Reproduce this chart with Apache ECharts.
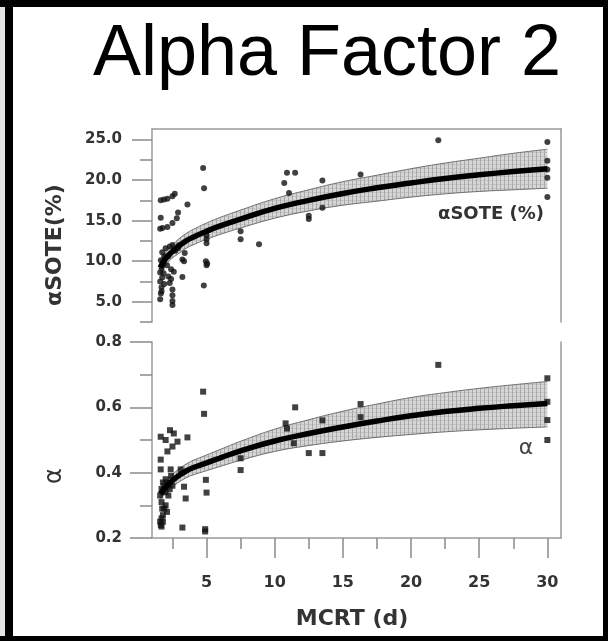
<!DOCTYPE html>
<html><head><meta charset="utf-8">
<script src="https://cdn.jsdelivr.net/npm/echarts@6/dist/echarts.min.js"></script>
<style>html,body{margin:0;padding:0;background:#fff}#c{width:608px;height:641px}</style>
</head><body><div id="c"></div>
<script>
// ---- data ----
const curveX = [1.6,1.8,2,2.25,2.5,3,3.5,4,5,6,7.5,10,12.5,15,17.5,20,22.5,25,27.5,30];
const soteFit   = [9.2,9.8,10.3,10.8,11.2,11.9,12.5,12.95,13.7,14.35,15.2,16.5,17.5,18.35,19.05,19.65,20.2,20.65,21.05,21.4];
const soteUpper = [10.0,10.6,11.1,11.6,12.0,12.8,13.4,13.9,14.7,15.4,16.3,17.7,18.8,19.8,20.6,21.4,22.1,22.7,23.3,23.8];
const soteLower = [8.4,9.0,9.5,10.0,10.4,11.0,11.6,12.0,12.7,13.3,14.1,15.3,16.2,16.9,17.4,17.9,18.3,18.6,18.8,19.0];
const alphaFit   = [0.335,0.345,0.355,0.366,0.376,0.392,0.405,0.415,0.43,0.445,0.467,0.497,0.52,0.54,0.558,0.574,0.587,0.597,0.605,0.612];
const alphaUpper = [0.35,0.361,0.372,0.384,0.395,0.412,0.426,0.437,0.454,0.471,0.496,0.533,0.562,0.588,0.61,0.63,0.645,0.658,0.669,0.679];
const alphaLower = [0.32,0.329,0.338,0.348,0.357,0.372,0.384,0.393,0.406,0.419,0.438,0.465,0.483,0.497,0.508,0.517,0.525,0.531,0.536,0.54];

const soteObs = [
[1.6,5.3],[1.65,6.0],[1.7,6.8],[1.6,7.5],[1.75,8.0],[1.6,8.6],[1.7,9.1],[1.8,9.6],[1.65,10.1],[1.9,10.6],[1.75,11.1],[2.0,11.6],[1.85,8.5],[1.9,7.2],[1.7,6.3],
[2.1,9.5],[2.2,10.6],[2.3,11.8],[2.5,12.0],[2.4,9.0],[2.2,8.1],[2.3,7.3],[2.5,6.5],[2.5,5.8],[2.5,5.1],[2.5,4.6],[2.4,7.8],[2.6,8.7],[2.7,11.3],[2.9,11.6],
[1.64,17.5],[1.88,17.6],[2.13,17.7],[2.5,18.0],[2.67,18.3],[3.6,17.0],[1.64,15.35],[1.77,14.1],[2.13,14.2],[2.5,14.7],[2.82,15.3],[2.91,16.0],[1.6,14.0],
[3.23,10.2],[3.35,10.0],[3.23,8.05],[3.0,12.0],[3.4,11.0],
[4.75,21.5],[4.82,19.0],[5.0,13.2],[5.0,12.7],[5.0,12.2],[4.95,10.0],[5.05,9.7],[5.0,9.5],[4.8,7.0],
[7.5,13.7],[7.5,12.7],[8.85,12.1],
[10.9,20.9],[11.5,20.9],[10.7,19.65],[11.05,18.4],
[12.5,15.2],[12.5,15.6],[13.5,19.95],[13.5,16.6],[16.3,20.7],[22.0,24.9],
[30,24.7],[30,22.4],[30,21.3],[30,20.3],[30,17.9]
];
const alphaObs = [
[1.64,0.51],[2.0,0.50],[2.32,0.53],[2.6,0.52],[2.87,0.495],[3.6,0.508],[2.5,0.48],[2.13,0.465],[1.64,0.44],[1.64,0.41],[2.37,0.41],[3.1,0.41],
[1.6,0.33],[1.7,0.35],[1.8,0.37],[1.9,0.36],[2.0,0.34],[2.1,0.37],[1.7,0.31],[1.75,0.29],[1.8,0.27],[1.6,0.25],[1.65,0.24],[1.7,0.235],[1.8,0.25],[2.0,0.30],[2.1,0.28],[2.2,0.33],[2.0,0.38],[2.3,0.35],[2.5,0.36],[2.4,0.39],[1.9,0.29],[1.7,0.26],
[3.35,0.357],[3.47,0.321],[3.23,0.232],
[4.75,0.648],[4.82,0.58],[4.95,0.378],[5.0,0.339],[4.9,0.227],[4.9,0.22],
[7.5,0.444],[7.5,0.408],
[11.5,0.60],[10.8,0.551],[10.9,0.535],[11.4,0.49],
[12.5,0.46],[13.5,0.46],[13.5,0.56],[16.3,0.61],[16.3,0.57],[22,0.73],
[30,0.689],[30,0.617],[30,0.561],[30,0.50]
];

const xMajorTicks = [5,10,15,20,25,30];
const xMinorTicks = [2.5,7.5,12.5,17.5,22.5,27.5];
const soteMajorTicks = [5,10,15,20,25];
const soteMinorTicks = [2.5,7.5,12.5,17.5,22.5];
const alphaMajorTicks = [0.2,0.4,0.6,0.8];
const alphaMinorTicks = [0.3,0.5,0.7];

// ---- styling ----
const pc = document.createElement('canvas'); pc.width = 4; pc.height = 4;
const g = pc.getContext('2d');
g.fillStyle = '#d6d6d6'; g.fillRect(0,0,4,4);
g.fillStyle = '#a9a9a9'; g.fillRect(0,0,1,4);
g.fillStyle = '#c2c2c2'; g.fillRect(1,0,3,1);
const bandFill = {image: pc, repeat: 'repeat'};

const AX = '#9a9a9a', TK = '#8a8a8a';
const labelFont = {fontFamily:'DejaVu Sans', fontWeight:'bold', color:'#333'};

function lineOnly(o){ return Object.assign({type:'value', axisTick:{show:false}, axisLabel:{show:false}, splitLine:{show:false},
  axisLine:{show:true, onZero:false, lineStyle:{color:AX, width:1.5}}}, o); }
function tickAxis(o, ticks, len, labels, fmt, margin, fs){
  return Object.assign({type:'value', splitLine:{show:false},
    axisLine:{show: !!labels, onZero:false, lineStyle:{color:AX, width:1.5}},
    axisTick:{show:true, length:len, customValues:ticks, lineStyle:{color:TK, width:1.5}},
    axisLabel: labels ? Object.assign({show:true, customValues:ticks, margin:margin, fontSize:fs, formatter:fmt}, labelFont) : {show:false}
  }, o);
}

function band(xi, yi, up, lo){
  return {type:'custom', xAxisIndex:xi, yAxisIndex:yi, data:[[15, lo[0]]], silent:true, z:1,
    renderItem:function(params, api){
      const pts = [];
      for (let i=0;i<curveX.length;i++) pts.push(api.coord([curveX[i], up[i]]));
      for (let i=curveX.length-1;i>=0;i--) pts.push(api.coord([curveX[i], lo[i]]));
      return {type:'polygon', shape:{points:pts}, style:{fill:bandFill, stroke:null}};
    }};
}
function edge(xi, yi, arr){
  return {type:'line', xAxisIndex:xi, yAxisIndex:yi, data:curveX.map((x,i)=>[x,arr[i]]), smooth:true, symbol:'none',
    silent:true, z:2, lineStyle:{color:'#6e6e6e', width:1}};
}
function fit(xi, yi, arr){
  return {type:'line', xAxisIndex:xi, yAxisIndex:yi, data:curveX.map((x,i)=>[x,arr[i]]), smooth:true, symbol:'none',
    silent:true, z:4, lineStyle:{color:'#000', width:5.5}};
}

const chart = echarts.init(document.getElementById('c'), null, {renderer:'canvas'});
chart.setOption({
  animation:false,
  backgroundColor:'#fff',
  grid:[
    {left:152, top:129, width:409, height:193},
    {left:152, top:342, width:409, height:196}
  ],
  xAxis:[
    lineOnly({gridIndex:0, min:1, max:31, position:'top'}),
    tickAxis({gridIndex:1, min:1, max:31, position:'bottom'}, xMajorTicks, 20, true, v=>String(v), 37, 16),
    tickAxis({gridIndex:1, min:1, max:31, position:'bottom'}, xMinorTicks, 11, false)
  ],
  yAxis:[
    tickAxis({gridIndex:0, min:2.5, max:26.3, position:'left'}, soteMajorTicks, 20, true, v=>v.toFixed(1), 30, 15),
    tickAxis({gridIndex:0, min:2.5, max:26.3, position:'left'}, soteMinorTicks, 12, false),
    lineOnly({gridIndex:0, min:2.5, max:26.3, position:'right'}),
    tickAxis({gridIndex:1, min:0.2, max:0.8, position:'left'}, alphaMajorTicks, 22, true, v=>v.toFixed(1), 30, 15),
    tickAxis({gridIndex:1, min:0.2, max:0.8, position:'left'}, alphaMinorTicks, 12, false),
    lineOnly({gridIndex:1, min:0.2, max:0.8, position:'right'})
  ],
  series:[
    band(0, 0, soteUpper, soteLower),
    edge(0, 0, soteUpper), edge(0, 0, soteLower),
    {type:'scatter', xAxisIndex:0, yAxisIndex:0, data:soteObs, symbol:'circle', symbolSize:6, z:3,
      itemStyle:{color:'#111'}},
    fit(0, 0, soteFit),
    band(1, 3, alphaUpper, alphaLower),
    edge(1, 3, alphaUpper), edge(1, 3, alphaLower),
    {type:'scatter', xAxisIndex:1, yAxisIndex:3, data:alphaObs, symbol:'rect', symbolSize:6, z:3,
      itemStyle:{color:'#111'}},
    fit(1, 3, alphaFit)
  ],
  graphic:[
    {type:'rect', shape:{x:0,y:0,width:5,height:641}, style:{fill:'#e4e4e4'}, z:100},
    {type:'rect', shape:{x:5,y:0,width:8,height:641}, style:{fill:'#000'}, z:100},
    {type:'rect', shape:{x:0,y:0,width:608,height:7}, style:{fill:'#000'}, z:100},
    {type:'rect', shape:{x:0,y:636,width:608,height:5}, style:{fill:'#000'}, z:100},
    {type:'rect', shape:{x:603,y:0,width:5,height:641}, style:{fill:'#000'}, z:100},
    {type:'text', x:327, y:55, z:100, style:{text:'Alpha Factor 2', fontFamily:'Liberation Sans', fontSize:72,
      fill:'#000', textAlign:'center', textVerticalAlign:'middle'}},
    {type:'text', x:55, y:245, rotation:Math.PI/2, z:100, style:{text:'αSOTE(%)', fontFamily:'DejaVu Sans', fontWeight:'bold',
      fontSize:22, fill:'#333', textAlign:'center', textVerticalAlign:'middle'}},
    {type:'text', x:55, y:476, rotation:Math.PI/2, z:100, style:{text:'α', fontFamily:'DejaVu Sans',
      fontSize:24, fill:'#333', textAlign:'center', textVerticalAlign:'middle'}},
    {type:'text', x:491, y:214, z:100, style:{text:'αSOTE (%)', fontFamily:'DejaVu Sans', fontWeight:'bold',
      fontSize:18, fill:'#333', textAlign:'center', textVerticalAlign:'middle'}},
    {type:'text', x:526, y:448, z:100, style:{text:'α', fontFamily:'DejaVu Sans',
      fontSize:22, fill:'#444', textAlign:'center', textVerticalAlign:'middle'}},
    {type:'text', x:352, y:619, z:100, style:{text:'MCRT (d)', fontFamily:'DejaVu Sans', fontWeight:'bold',
      fontSize:22, fill:'#333', textAlign:'center', textVerticalAlign:'middle'}}
  ]
});
</script></body></html>
